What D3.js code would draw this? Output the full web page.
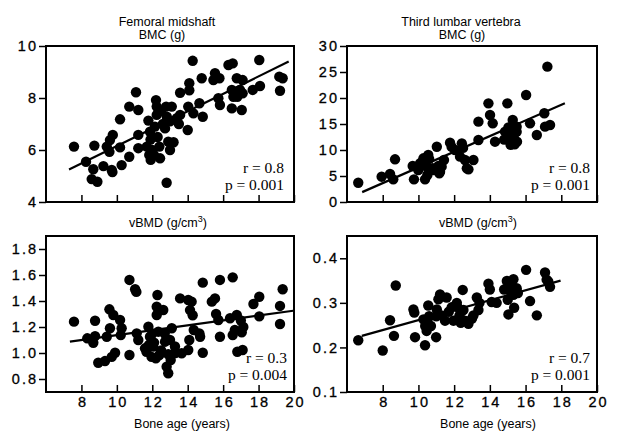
<!DOCTYPE html>
<html><head><meta charset="utf-8">
<script src="https://cdn.jsdelivr.net/npm/d3@7"></script>
<style>
body{margin:0;background:#fff;}
svg{display:block;}
.tick text{font-family:"Liberation Sans",Arial,sans-serif;font-size:14.5px;letter-spacing:2px;fill:#000;stroke:#000;stroke-width:0.3px;}
.lbl{font-family:"Liberation Sans",Arial,sans-serif;font-size:12.5px;fill:#000;}
.stat{font-family:"Liberation Serif","Times New Roman",serif;font-size:15.5px;fill:#000;}
</style></head>
<body><svg id="c" width="621" height="440"></svg>
<script>
// ---- data: [bone age (years), value] ----
const femoralBMC = [
 [7.58,6.13],[8.26,5.55],[8.73,6.17],[8.67,5.26],[8.58,4.88],[8.9,4.78],[9.24,5.38],[9.71,5.23],
 [9.43,6.13],[9.61,6.38],[9.77,6.58],[9.58,5.93],[9.75,5.15],[10.18,6.1],[10.27,5.42],[10.18,7.18],
 [10.7,7.67],[11.21,7.54],[11.08,8.22],[10.7,5.74],[11.21,6.07],[11.21,6.58],[11.78,7.13],[11.87,6.7],
 [11.69,6.13],[11.83,5.81],[11.91,5.62],[12.21,7.92],[12.25,7.67],[12.25,7.35],[12.15,6.9],[12.4,6.13],
 [12.44,5.68],[12.78,7.67],[12.82,7.28],[12.72,6.83],[12.9,6.32],[13.1,7.67],[13.0,6.0],[12.81,4.74],
 [13.38,7.22],[13.57,7.35],[13.57,8.2],[14.0,6.77],[14.03,7.67],[14.09,8.57],[14.09,8.3],[14.28,9.43],
 [14.32,7.41],[14.66,7.8],[14.79,8.76],[14.85,7.28],[15.45,8.69],[15.54,8.95],[15.79,8.76],[15.73,7.99],
 [15.82,7.73],[16.3,9.27],[16.54,9.33],[16.49,8.31],[16.58,8.05],[16.49,7.6],[16.77,8.76],[16.95,8.31],
 [17.05,7.54],[17.1,8.69],[17.1,8.18],[16.8,8.05],[17.67,8.31],[18.04,9.46],[18.08,8.46],[19.17,8.82],
 [19.36,8.76],[19.21,8.28],[12.0,6.0],[12.3,6.5],[12.6,7.0],[13.2,6.3],[12.1,5.8],[11.9,6.4],
 [13.0,7.1],[12.5,7.5],[13.5,7.0]
];
const lumbarBMC = [
 [6.63,3.71],[7.94,4.87],[8.41,5.38],[8.59,4.36],[8.69,8.21],[9.68,6.92],[9.75,4.36],[9.99,6.15],
 [10.09,7.44],[10.37,4.36],[10.46,6.79],[10.55,9.04],[10.6,8.3],[10.84,6.15],[11.03,10.63],[11.17,5.51],
 [11.3,6.8],[11.43,8.08],[11.77,11.41],[11.86,10.6],[12.05,10.0],[12.33,8.72],[12.43,11.28],[12.5,10.4],
 [12.61,8.08],[12.8,6.28],[13.08,8.08],[13.36,11.92],[13.36,15.45],[13.92,18.97],[14.01,16.73],[14.16,15.13],
 [14.29,11.6],[14.85,13.53],[14.98,18.97],[15.04,14.36],[15.13,11.92],[15.16,11.0],[15.28,15.77],[15.3,13.53],
 [15.35,12.2],[15.39,11.1],[15.5,14.49],[15.52,11.6],[16.03,20.58],[16.25,15.13],[16.63,12.88],[17.05,17.06],
 [17.09,14.49],[17.37,14.8],[17.22,26.03],[10.28,8.4],[11.12,6.92],[11.21,5.83],[12.71,6.48],[15.0,13.0],
 [15.2,14.0],[14.8,12.0],[15.5,13.5],[10.8,6.5],[10.5,5.2]
];
const femoralVBMD = [
 [7.58,1.241],[8.33,1.113],[8.67,1.079],[8.77,1.248],[8.77,1.13],[8.95,0.925],[9.33,0.938],[9.43,1.125],
 [9.58,1.336],[9.8,1.292],[9.61,1.19],[9.9,1.002],[9.71,0.97],[10.18,1.254],[10.22,1.138],[10.27,1.19],
 [10.71,0.985],[10.71,1.562],[11.03,1.49],[11.1,1.47],[11.12,1.151],[11.21,1.1],[11.59,1.036],[11.67,1.01],
 [11.78,1.202],[11.87,1.125],[11.96,0.97],[12.0,1.15],[12.05,1.05],[12.29,1.446],[12.25,1.356],[12.25,1.292],
 [12.34,1.164],[12.4,0.985],[12.62,1.331],[12.72,1.087],[12.81,0.895],[12.9,0.844],[13.04,0.946],[13.1,1.19],
 [13.28,1.05],[13.57,1.42],[13.66,0.998],[14.03,1.408],[14.13,1.33],[14.22,1.395],[14.28,1.29],[14.09,1.1],
 [14.03,1.023],[14.34,1.177],[14.66,1.151],[14.7,1.125],[14.85,1.002],[14.85,1.541],[15.36,1.395],[15.54,1.42],
 [15.6,1.3],[15.82,1.562],[15.82,1.125],[15.73,1.254],[16.39,1.267],[16.54,1.582],[16.54,1.138],[16.66,1.177],
 [16.77,1.292],[16.8,1.01],[17.1,1.023],[17.0,1.25],[17.14,1.2],[17.05,1.16],[17.71,1.377],[18.04,1.433],
 [18.04,1.282],[19.21,1.362],[19.21,1.223],[19.36,1.49],[12.1,1.08],[12.5,1.02],[12.7,1.15],[13.3,1.0],
 [11.8,1.06],[12.2,0.96],[13.0,1.1],[12.9,0.99]
];
const lumbarVBMD = [
 [6.63,0.216],[8.0,0.193],[8.41,0.261],[8.63,0.226],[8.73,0.339],[9.72,0.285],[9.77,0.278],[9.81,0.223],
 [10.37,0.205],[10.28,0.263],[10.38,0.248],[10.46,0.237],[10.55,0.294],[10.6,0.27],[10.7,0.248],[10.99,0.223],
 [11.03,0.285],[11.12,0.308],[11.21,0.319],[11.3,0.272],[11.49,0.26],[11.58,0.312],[11.86,0.29],[11.96,0.26],
 [12.15,0.3],[12.3,0.272],[12.37,0.255],[12.48,0.329],[12.52,0.284],[12.6,0.26],[12.8,0.253],[13.08,0.272],
 [13.27,0.312],[13.36,0.284],[13.42,0.3],[13.92,0.343],[14.0,0.33],[14.1,0.302],[14.38,0.3],[14.8,0.33],
 [14.95,0.349],[15.0,0.307],[15.04,0.274],[15.13,0.327],[15.32,0.353],[15.32,0.318],[15.36,0.289],[15.5,0.333],
 [15.57,0.322],[16.03,0.374],[16.25,0.304],[16.63,0.272],[17.09,0.368],[17.18,0.352],[17.37,0.336],[17.27,0.348],
 [11.0,0.27],[11.7,0.28],[12.2,0.29],[10.5,0.26],[15.2,0.34],[13.0,0.265]
];
// regression line end points
const femoralBMCFit = [[7.3,5.25],[19.7,9.4]];
const lumbarBMCFit = [[6.85,1.9],[18.2,19.0]];
const femoralVBMDFit = [[7.35,1.087],[19.95,1.325]];
const lumbarVBMDFit = [[6.83,0.226],[17.96,0.35]];
// statistics text
const statR = ["r = 0.8","r = 0.8","r = 0.3","r = 0.7"];
const statP = ["p = 0.001","p = 0.001","p = 0.004","p = 0.001"];
// ticks
const ageTicks = [8,10,12,14,16,18,20];
const femBMCTicks = [4,6,8,10];
const lumBMCTicks = [0,5,10,15,20,25,30];
const femVBMDTicks = [0.8,1.0,1.2,1.4,1.6,1.8];
const lumVBMDTicks = [0.1,0.2,0.3,0.4];

const svg = d3.select("#c");

const panels = [
 {data:femoralBMC, fit:femoralBMCFit, x0:46,x1:294,y0:46,y1:202, yd:[4,10], yt:femBMCTicks, fmt:d3.format("d"), xlab:false, r:statR[0], p:statP[0], sx:284},
 {data:lumbarBMC, fit:lumbarBMCFit, x0:347,x1:597,y0:46,y1:202, yd:[0,30], yt:lumBMCTicks, fmt:d3.format("d"), xlab:false, r:statR[1], p:statP[1], sx:590},
 {data:femoralVBMD, fit:femoralVBMDFit, x0:46,x1:294,y0:236,y1:392, yd:[0.7,1.9], yt:femVBMDTicks, fmt:d3.format(".1f"), xlab:true, r:statR[2], p:statP[2], sx:287},
 {data:lumbarVBMD, fit:lumbarVBMDFit, x0:347,x1:597,y0:236,y1:392, yd:[0.1,0.45], yt:lumVBMDTicks, fmt:d3.format(".1f"), xlab:true, r:statR[3], p:statP[3], sx:590}
];

panels.forEach(P=>{
  const x = d3.scaleLinear().domain([6,20]).range([P.x0,P.x1]);
  const y = d3.scaleLinear().domain(P.yd).range([P.y1,P.y0]);
  const g = svg.append("g");
  const ya = g.append("g").attr("transform",`translate(${P.x0},0)`)
    .call(d3.axisLeft(y).tickValues(P.yt).tickFormat(P.fmt).tickSize(7).tickSizeOuter(0).tickPadding(1));
  ya.select(".domain").remove();
  ya.selectAll("line").attr("stroke","#000").attr("stroke-width",1.5);
  const xa = g.append("g").attr("transform",`translate(0,${P.y1})`)
    .call(d3.axisBottom(x).tickValues(ageTicks).tickFormat(P.xlab?d3.format("d"):"").tickSize(-7).tickSizeOuter(0).tickPadding(5));
  xa.select(".domain").remove();
  xa.selectAll("line").attr("stroke","#000").attr("stroke-width",1.5);
  xa.selectAll("text").attr("dx","1px");
  g.append("g").selectAll("circle").data(P.data).join("circle")
    .attr("cx",d=>x(d[0])).attr("cy",d=>y(d[1])).attr("r",5.2).attr("fill","#000");
  g.append("path").datum(P.fit)
    .attr("d",d3.line().x(d=>x(d[0])).y(d=>y(d[1])))
    .attr("stroke","#000").attr("stroke-width",2.2).attr("fill","none");
  g.append("rect").attr("x",P.x0).attr("y",P.y0).attr("width",P.x1-P.x0).attr("height",P.y1-P.y0)
    .attr("fill","none").attr("stroke","#000").attr("stroke-width",2);
  g.append("text").attr("class","stat").attr("x",P.sx).attr("y",P.y1-29).attr("text-anchor","end").text(P.r);
  g.append("text").attr("class","stat").attr("x",P.sx).attr("y",P.y1-12).attr("text-anchor","end").text(P.p);
});

const lbl = (x,y,t)=>svg.append("text").attr("class","lbl").attr("x",x).attr("y",y).attr("text-anchor","middle").text(t);
lbl(167,26,"Femoral midshaft");
lbl(162,39,"BMC (g)");
lbl(461,26,"Third lumbar vertebra");
lbl(462,39,"BMC (g)");
[ [168,227],[478,227] ].forEach(([cx,cy])=>{
  const t = svg.append("text").attr("class","lbl").attr("x",cx).attr("y",cy).attr("text-anchor","middle");
  t.append("tspan").text("vBMD (g/cm");
  t.append("tspan").attr("font-size","9px").attr("dy","-5").text("3");
  t.append("tspan").attr("dy","5").text(")");
});
lbl(182,428,"Bone age (years)");
lbl(488,428,"Bone age (years)");
</script></body></html>
